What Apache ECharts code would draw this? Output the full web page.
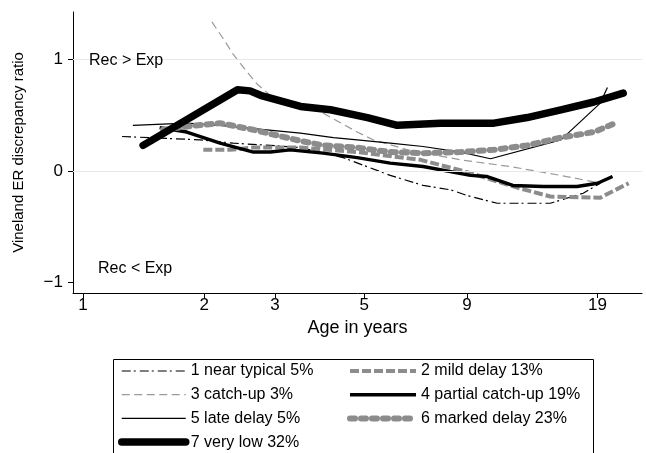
<!DOCTYPE html>
<html><head><meta charset="utf-8">
<script src="https://cdn.jsdelivr.net/npm/echarts@6.0.0/dist/echarts.min.js"></script>
<style>html,body{margin:0;padding:0;background:#fff}#c{width:646px;height:453px}</style>
</head><body><div id="c"></div>
<script>
// ---- data (age in years, Vineland ER discrepancy ratio) ----
const seriesNames = ['1 near typical 5%','2 mild delay 13%','3 catch-up 3%','4 partial catch-up 19%','5 late delay 5%','6 marked delay 23%','7 very low 32%'];

const ageNearTypical = [1.25, 1.95, 2.36, 2.92, 3.47, 4.43, 5.8, 7.0, 8.2, 9.0, 10.7, 14.5, 17.5, 19.3];
const valNearTypical = [0.31, 0.28, 0.25, 0.23, 0.21, 0.12, -0.04, -0.13, -0.17, -0.22, -0.29, -0.29, -0.2, -0.11];

const ageMildDelay = [1.99, 2.32, 2.65, 3.47, 4.8, 6.9, 9.0, 12.0, 14.5, 19.3, 22.7];
const valMildDelay = [0.19, 0.19, 0.21, 0.21, 0.17, 0.10, -0.01, -0.15, -0.23, -0.24, -0.11];

const ageCatchUp = [2.09, 2.22, 2.36, 2.53, 2.71, 2.92, 3.22, 3.95, 4.8, 5.26, 6.4, 8.67, 11.5, 15.4, 19.3];
const valCatchUp = [1.34, 1.20, 1.05, 0.91, 0.78, 0.68, 0.63, 0.52, 0.35, 0.28, 0.19, 0.10, 0.04, -0.04, -0.11];

const agePartial = [1.55, 1.81, 2.19, 2.65, 2.92, 3.27, 3.95, 4.8, 5.8, 7.0, 9.18, 10.1, 11.7, 13.9, 16.9, 19.0, 20.7];
const valPartial = [0.39, 0.35, 0.25, 0.17, 0.17, 0.19, 0.16, 0.12, 0.07, 0.04, -0.04, -0.05, -0.13, -0.14, -0.14, -0.11, -0.05];

const ageLateDelay = [1.33, 1.81, 2.19, 3.47, 4.19, 4.8, 5.8, 7.0, 8.67, 10.3, 15.4, 19.3, 20.1];
const valLateDelay = [0.41, 0.43, 0.41, 0.34, 0.30, 0.28, 0.25, 0.22, 0.17, 0.11, 0.28, 0.61, 0.75];

const ageMarked = [1.58, 1.81, 2.19, 2.65, 3.47, 3.95, 4.8, 5.8, 7.0, 8.67, 10.5, 12.7, 15.4, 18.6, 20.7];
const valMarked = [0.37, 0.40, 0.43, 0.37, 0.27, 0.23, 0.21, 0.17, 0.16, 0.17, 0.19, 0.23, 0.30, 0.35, 0.42];

const ageVeryLow = [1.41, 2.42, 2.6, 2.76, 3.47, 4.12, 5.09, 6.04, 7.73, 9.18, 10.5, 12.7, 15.4, 18.6, 22.0];
const valVeryLow = [0.23, 0.73, 0.72, 0.68, 0.58, 0.55, 0.48, 0.41, 0.43, 0.43, 0.43, 0.48, 0.55, 0.62, 0.70];

const xTickAges = [1, 2, 3, 5, 9, 19];
const yTicks = [-1, 0, 1];
const gridLineValues = [0, 1];
const xRangeAges = [0.944, 24.5];
const yRange = [-1.097, 1.429];

// ---- chart ----
const FONT = 'Liberation Sans, Arial, sans-serif';
const GRAY = '#8c8c8c';
const toPts = (ages, vals) => ages.map((a, i) => [Math.log(a), vals[i]]);

const styles = [
  {color:'#000', width:1.2, type:[9,3,2,4]},
  {color:GRAY, width:4, type:[9,3]},
  {color:'#9a9a9a', width:1.2, type:[8,4.5]},
  {color:'#000', width:3.4},
  {color:'#000', width:1.2},
  {color:GRAY, width:6, type:[5,6], cap:'round'},
  {color:'#000', width:7.5, cap:'round', join:'round'}
];
const dataSets = [
  [ageNearTypical, valNearTypical],
  [ageMildDelay, valMildDelay],
  [ageCatchUp, valCatchUp],
  [agePartial, valPartial],
  [ageLateDelay, valLateDelay],
  [ageMarked, valMarked],
  [ageVeryLow, valVeryLow]
];

const series = dataSets.map((d, i) => {
  const s = {
    name: seriesNames[i], type:'line', data: toPts(d[0], d[1]),
    symbol:'none', showSymbol:false, animation:false, silent:true,
    lineStyle: Object.assign({}, styles[i]),
    itemStyle: {color: styles[i].color}
  };
  if (i === 0) {
    s.markLine = {
      silent:true, animation:false, symbol:['none','none'], label:{show:false},
      lineStyle:{color:'#e3ebed', width:1, type:'solid'},
      data: gridLineValues.map(v => ({yAxis:v}))
    };
  }
  return s;
});

const legendItem = i => ({name: seriesNames[i], lineStyle:{width: styles[i].width},
  itemStyle:{color:'rgba(0,0,0,0)', borderWidth:0, opacity:0}});
const legendCommon = {
  orient:'vertical', padding:0, itemHeight:14, itemGap:3.7,
  selectedMode:false,
  itemStyle:{color:'rgba(0,0,0,0)', borderWidth:0, opacity:0},
  textStyle:{fontSize:16, fontFamily:FONT, color:'#000', lineHeight:20}
};

const chart = echarts.init(document.getElementById('c'), null, {renderer:'canvas'});
chart.setOption({
  animation:false,
  backgroundColor:'#fff',
  grid:{left:73, right:4, top:12, bottom:160, containLabel:false},
  xAxis:{
    type:'value', min:Math.log(xRangeAges[0]), max:Math.log(xRangeAges[1]),
    axisLine:{show:true, onZero:false, lineStyle:{color:'#000', width:1}},
    axisTick:{show:true, length:5, customValues: xTickAges.map(Math.log), lineStyle:{color:'#000'}},
    axisLabel:{customValues: xTickAges.map(Math.log), formatter: v => String(Math.round(Math.exp(v))),
      fontSize:17, fontFamily:FONT, color:'#000', margin:4},
    splitLine:{show:false},
    name:'Age in years', nameLocation:'middle', nameGap:25,
    nameTextStyle:{fontSize:18, fontFamily:FONT, color:'#000'}
  },
  yAxis:{
    type:'value', min:yRange[0], max:yRange[1],
    axisLine:{show:true, onZero:false, lineStyle:{color:'#000', width:1}},
    axisTick:{show:true, length:5, customValues: yTicks, lineStyle:{color:'#000'}},
    axisLabel:{customValues: yTicks, formatter: v => v < 0 ? '\u2212' + Math.abs(v) : String(v),
      fontSize:17, fontFamily:FONT, color:'#000', margin:10},
    splitLine:{show:false},
    name:'Vineland ER discrepancy ratio', nameLocation:'middle', nameGap:47, nameRotate:90,
    nameTextStyle:{fontSize:15, fontFamily:FONT, color:'#000'}
  },
  legend:[
    Object.assign({left:118, top:361, itemWidth:64, data:[0,2,4,6].map(legendItem)}, legendCommon),
    Object.assign({left:347, top:361, itemWidth:66, data:[1,3,5].map(legendItem)}, legendCommon)
  ],
  graphic:[
    {type:'rect', left:111, top:357, z:1, shape:{x:0, y:0, width:480, height:110},
      style:{fill:'none', stroke:'#000', lineWidth:1}, silent:true},
    {type:'text', x:89, y:61, z:100, style:{text:'Rec > Exp', fontSize:16, fontFamily:FONT, fill:'#000', verticalAlign:'middle'}},
    {type:'text', x:98, y:269, z:100, style:{text:'Rec < Exp', fontSize:16, fontFamily:FONT, fill:'#000', verticalAlign:'middle'}}
  ],
  series: series
});
</script>
</body></html>
